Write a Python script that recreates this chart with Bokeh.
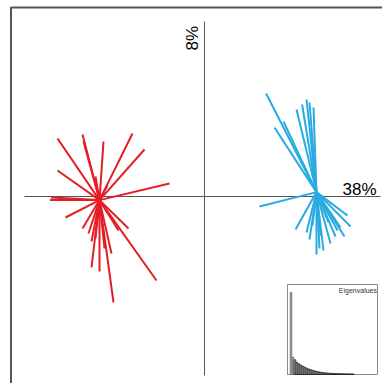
from bokeh.plotting import figure
from bokeh.models import Range1d
from bokeh.core.properties import value
from bokeh.embed import file_html
from bokeh.resources import INLINE
import numpy as np

# PCA scores (axis 1 = 38%, axis 2 = 8%)
red_x = [-7.35, -6.10, -6.05, -5.05, -3.60, -3.00, -7.35, -1.75, -7.73, -7.68,
         -5.45, -6.95, -6.10, -5.80, -5.65, -5.65, -5.25, -4.55, -2.40, -3.80,
         -4.65, -4.30, -5.00, -5.45, -4.85]
red_y = [2.90, 3.10, 2.75, 2.75, 3.15, 2.35, 1.30, 0.65, -0.18, -0.05,
         1.00, -1.05, -1.60, -1.85, -2.25, -3.55, -3.75, -5.30, -4.20, -1.60,
         -2.85, -1.70, -2.60, -2.10, 0.55]
red_center = (-5.25, -0.18)

blue_x = [3.08, 3.50, 3.95, 4.60, 4.88, 5.10, 5.25, 5.45, 2.75, 4.55,
          5.10, 5.25, 5.60, 5.75, 5.95, 6.30, 6.55, 6.80, 7.00, 7.30,
          7.15, 6.20, 6.65, 5.40, 5.80]
blue_y = [5.15, 3.45, 3.75, 4.35, 4.60, 4.85, 4.70, 4.45, -0.50, -1.65,
          -1.80, -2.15, -2.90, -2.60, -2.70, -2.35, -2.00, -1.55, -2.00, -1.50,
          -0.95, -1.30, -1.70, -1.45, -1.95]
blue_center = (5.60, 0.22)

axis_labels = ["38%", "8%"]

eigenvalues = [38, 8, 6.8, 5.6, 4.9, 4.3, 3.8, 3.3, 2.9, 2.5, 2.2, 1.9, 1.6, 1.4,
               1.2, 1.0, 0.9, 0.8, 0.7, 0.6, 0.55, 0.5, 0.45, 0.4, 0.4, 0.35,
               0.35, 0.3, 0.3, 0.3, 0.25, 0.25]

RED = "#E41E26"
BLUE = "#29ABE2"

p = figure(width=382, height=383, output_backend="svg", toolbar_location=None,
           x_range=Range1d(-10.2, 8.9), y_range=Range1d(-9.35, 9.8),
           min_border=0)
p.axis.visible = False
p.grid.visible = False
p.outline_line_color = None
p.background_fill_color = "white"

p.extra_x_ranges = {"eig_x": Range1d(-144.25, 46.75)}
p.extra_y_ranges = {"eig_y": Range1d(-4.17, 173.3)}

# outer frame (only left and top edges visible)
p.line(x=[-9.675, -9.675, 9.5], y=[-10, 9.45, 9.45], line_color="#555555", line_width=2)

# axes through origin
p.line(x=[-9.0, 8.8], y=[0, 0], line_color="#555555", line_width=1)
p.line(x=[0, 0], y=[8.75, -8.95], line_color="#555555", line_width=1)

# star segments
p.segment(x0=[red_center[0]] * len(red_x), y0=[red_center[1]] * len(red_y),
          x1=red_x, y1=red_y, line_color=RED, line_width=2)
p.segment(x0=[blue_center[0]] * len(blue_x), y0=[blue_center[1]] * len(blue_y),
          x1=blue_x, y1=blue_y, line_color=BLUE, line_width=2)

# axis labels
p.text(x=[6.9], y=[0.35], text=[axis_labels[0]], text_font=value("Liberation Sans"),
       text_font_size="17px", text_align="left", text_baseline="alphabetic",
       text_color="black")
p.text(x=[-0.6], y=[7.3], text=[axis_labels[1]], text_font=value("Liberation Sans"),
       text_font_size="17px", text_align="left", text_baseline="alphabetic",
       angle=np.pi / 2, text_color="black")

# eigenvalue inset
p.quad(left=[-0.75], right=[44.25], bottom=[0], top=[41.7],
       x_range_name="eig_x", y_range_name="eig_y",
       fill_color="white", line_color="#8a8a8a", line_width=1)
idx = list(range(1, len(eigenvalues) + 1))
fills = ["#a0a0a0" if i <= 2 else "white" for i in idx]
lines = ["#707070" if i <= 2 else "black" for i in idx]
p.vbar(x=idx, top=eigenvalues, bottom=0, width=0.8,
       x_range_name="eig_x", y_range_name="eig_y",
       fill_color=fills, line_color=lines, line_width=0.8)
p.text(x=[44.0], y=[40.6], text=["Eigenvalues"], x_range_name="eig_x", y_range_name="eig_y",
       text_font=value("Liberation Sans"), text_font_size="7px",
       text_align="right", text_baseline="top", text_color="#333333")

open("out.html", "w").write(file_html(p, INLINE))
